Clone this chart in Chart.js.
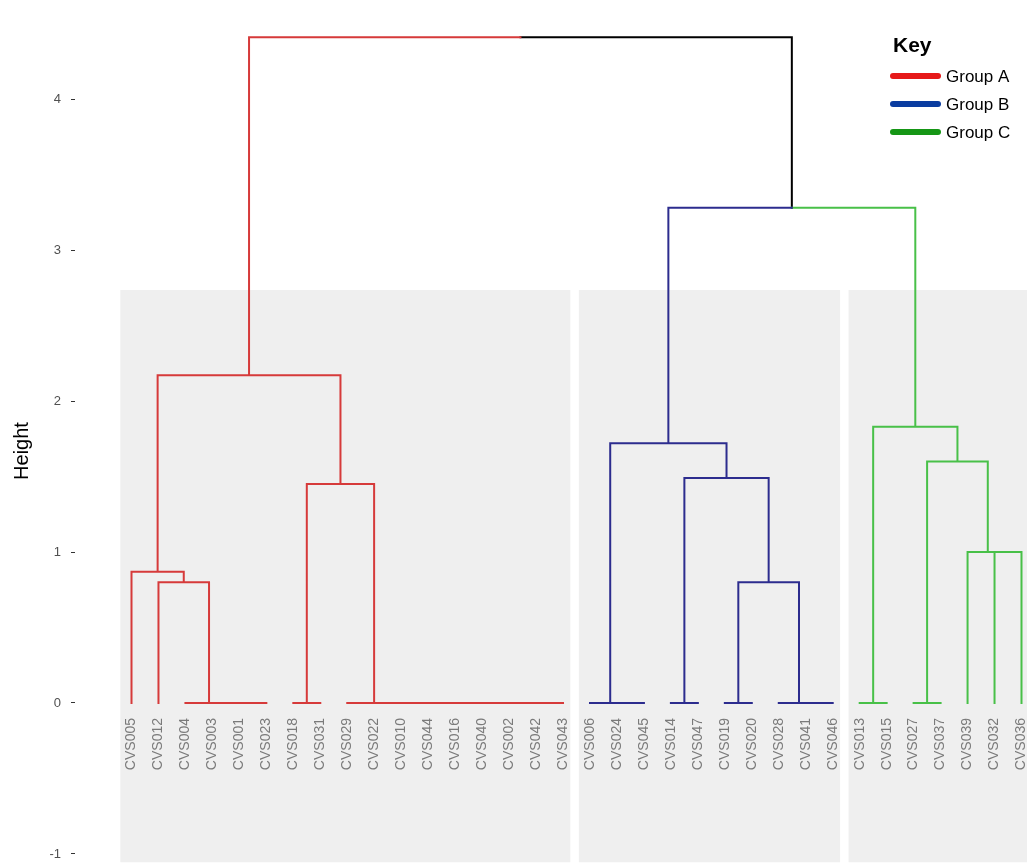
<!DOCTYPE html>
<html>
<head>
<meta charset="utf-8">
<script src="https://cdn.jsdelivr.net/npm/chart.js@4"></script>
<style>
  html, body { margin: 0; padding: 0; background: #ffffff; overflow: hidden; }
  #wrap { position: relative; width: 1027px; height: 902px; }
</style>
</head>
<body>
<div id="wrap"><canvas id="tree"></canvas></div>
<script>
// Leaves, left to right, one list per cluster
const groupA = ['CVS005', 'CVS012', 'CVS004', 'CVS003', 'CVS001', 'CVS023', 'CVS018', 'CVS031', 'CVS029',
                'CVS022', 'CVS010', 'CVS044', 'CVS016', 'CVS040', 'CVS002', 'CVS042', 'CVS043'];
const groupB = ['CVS006', 'CVS024', 'CVS045', 'CVS014', 'CVS047', 'CVS019', 'CVS020', 'CVS028', 'CVS041', 'CVS046'];
const groupC = ['CVS013', 'CVS015', 'CVS027', 'CVS037', 'CVS039', 'CVS032', 'CVS036'];

// Agglomeration steps, hclust style: negative = leaf position (1-based), positive = earlier step
const mergeLeft   = [-5, -4, -3, -2, -1, -7, -16, -15, -14, -13, -12, -11, -10, -9, 6, 5,
                     -19, -18, -21, -23, -26, -25, 20, 19, 18,
                     -28, -30, -33, -32, 27, 26, 25, 16];
const mergeRight  = [-6, 1, 2, 3, 4, -8, -17, 7, 8, 9, 10, 11, 12, 13, 14, 15,
                     -20, 17, -22, -24, -27, 21, 22, 23, 24,
                     -29, -31, -34, 28, 29, 30, 31, 32];
const mergeHeight = [0, 0, 0, 0.80, 0.87, 0, 0, 0, 0, 0, 0, 0, 0, 0, 1.45, 2.17,
                     0, 0, 0, 0, 0, 0, 0.80, 1.49, 1.72,
                     0, 0, 1.00, 1.00, 1.60, 1.83, 3.28, 4.41];

// Key entries
const legendLabels = ['Group A', 'Group B', 'Group C'];

// Shaded cluster boxes (height range)
const boxTop = 2.735;
const boxBottom = -1.054;

const branchColours = ['#d63a3a', '#2c2c8e', '#48c048'];
const legendColours = ['#e61919', '#0a3ca0', '#159615'];
const mixedColour = '#000000';

const groups = [groupA, groupB, groupC];
const leafLabels = groupA.concat(groupB, groupC);
const leafGroup = leafLabels.map(l => groups.findIndex(g => g.includes(l)));

// Node layout: a node sits midway between its two children
const nodeX = [];
const nodeGroup = [];
function member(id) {
  if (id < 0) return { x: -id, h: 0, g: leafGroup[-id - 1] };
  return { x: nodeX[id - 1], h: mergeHeight[id - 1], g: nodeGroup[id - 1] };
}
const branchPaths = [[], [], [], []]; // A, B, C, mixed
mergeLeft.forEach((l, i) => {
  const L = member(l), R = member(mergeRight[i]);
  const x = (L.x + R.x) / 2, h = mergeHeight[i];
  nodeX.push(x);
  nodeGroup.push(L.g === R.g ? L.g : 3);
  [L, R].forEach(c => {
    const p = branchPaths[c.g];
    p.push({ x: c.x, y: c.h }, { x: c.x, y: h }, { x: x, y: h }, { x: x, y: null });
  });
});

const branchSets = branchPaths.map((pts, k) => ({
  data: pts,
  borderColor: k < 3 ? branchColours[k] : mixedColour,
  borderWidth: 2,
  borderCapStyle: 'square',
  borderJoinStyle: 'miter',
  pointRadius: 0,
  tension: 0,
  spanGaps: false,
  fill: false
}));

const boxSets = groups.map(g => {
  const first = leafLabels.indexOf(g[0]) + 1;
  const last = first + g.length - 1;
  return {
    data: [{ x: first - 0.42, y: boxTop }, { x: last + 0.28, y: boxTop }],
    borderColor: 'rgba(0,0,0,0)',
    borderWidth: 0,
    backgroundColor: '#efefef',
    pointRadius: 0,
    fill: { target: { value: boxBottom } }
  };
});

const keyPlugin = {
  id: 'keyBox',
  afterDraw(chart) {
    const ctx = chart.ctx;
    ctx.save();
    ctx.fillStyle = '#000000';
    ctx.font = 'bold 21px "Liberation Sans", Arial, sans-serif';
    ctx.textAlign = 'left';
    ctx.textBaseline = 'alphabetic';
    ctx.fillText('Key', 893, 52);
    legendLabels.forEach((t, i) => {
      const y = 76 + i * 28;
      ctx.strokeStyle = legendColours[i];
      ctx.lineWidth = 6;
      ctx.lineCap = 'round';
      ctx.beginPath();
      ctx.moveTo(893, y);
      ctx.lineTo(938, y);
      ctx.stroke();
      ctx.fillStyle = '#000000';
      ctx.font = '17px "Liberation Sans", Arial, sans-serif';
      ctx.textBaseline = 'middle';
      ctx.fillText(t, 946, y + 1);
    });
    ctx.restore();
  }
};

Chart.defaults.font.family = '"Liberation Sans", Arial, sans-serif';

new Chart(document.getElementById('tree'), {
  type: 'line',
  data: { datasets: branchSets.concat(boxSets) },
  options: {
    responsive: true,
    maintainAspectRatio: false,
    animation: false,
    layout: { padding: 0 },
    plugins: { legend: { display: false }, tooltip: { enabled: false } },
    scales: {
      x: {
        type: 'linear',
        min: -1.095,
        max: 34.204,
        position: { y: 0 },
        afterBuildTicks: s => { s.ticks = leafLabels.map((_, i) => ({ value: i + 1 })); },
        afterFit: s => { s.paddingLeft = 0; s.paddingRight = 0; s.paddingTop = 0; s.paddingBottom = 0; },
        grid: { display: false, drawTicks: false },
        border: { display: false },
        ticks: {
          z: 1,
          autoSkip: false,
          minRotation: 90,
          maxRotation: 90,
          padding: 15,
          color: '#7a7a7a',
          font: { size: 14 },
          callback: (v, i) => leafLabels[i]
        }
      },
      y: {
        type: 'linear',
        position: 'left',
        min: -1.318,
        max: 4.656,
        afterFit: s => { s.width = 75; s.paddingTop = 0; s.paddingBottom = 0; },
        grid: { drawOnChartArea: false, drawTicks: true, tickLength: 4, color: '#333333', lineWidth: 1 },
        border: { display: false },
        ticks: {
          stepSize: 1,
          includeBounds: false,
          padding: 10,
          color: '#505050',
          font: { size: 13 }
        },
        title: {
          display: true,
          text: 'Height',
          color: '#000000',
          font: { size: 20 },
          padding: { top: 10, bottom: 0 }
        }
      }
    }
  },
  plugins: [keyPlugin]
});
</script>
</body>
</html>
